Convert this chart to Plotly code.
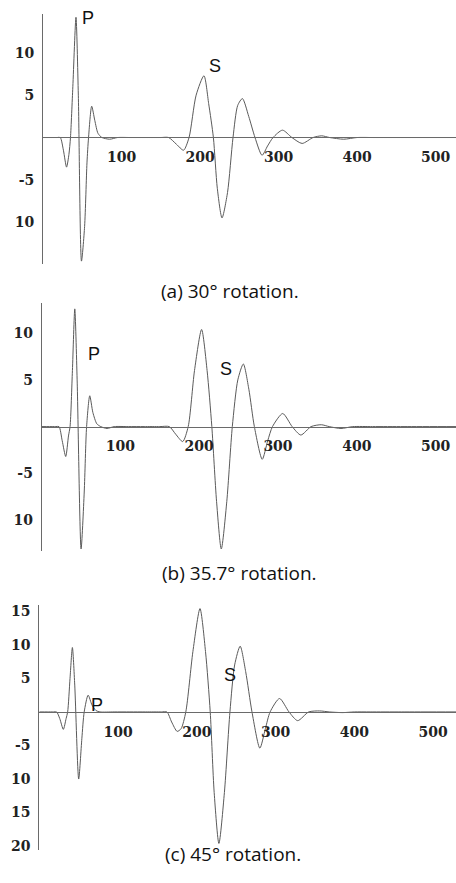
import plotly.graph_objects as go

# ---- data ----
a_x = [0, 10, 18, 22, 26, 30, 33, 35, 38, 42, 45, 49, 53, 56, 58, 62, 66, 70, 75, 85, 95, 110, 130, 150, 160, 170, 179, 186, 195, 205, 211, 217, 222, 228, 235, 242, 248, 254, 262, 270, 279, 286, 293, 305, 317, 330, 344, 355, 365, 383, 400, 420, 460, 526]
a_y = [0, 0, 0, 0, -1.5, -3.5, -2, 0, 6, 14.2, 5, -14.6, -10.5, -3, 0, 3.7, 2, 0.5, 0, -0.2, 0, 0, 0, 0, 0, -0.8, -1.5, 0, 5, 7.3, 4, 0, -6, -9.5, -6.5, 0, 3.8, 4.6, 2.5, 0, -2.1, -1, 0, 0.87, 0, -0.7, 0, 0.2, 0, -0.2, 0, 0, 0, 0]

b_x = [0, 10, 18, 22, 26, 30.5, 34, 36, 39, 42, 45, 50, 54, 57, 61, 65, 70, 75, 83, 92, 110, 130, 150, 162, 170, 179, 186, 194, 203, 210, 216, 222, 228, 235, 242, 249, 256, 263, 270, 280, 287, 293, 306, 318, 329, 342, 355, 365, 380, 395, 420, 460, 526]
b_y = [0, 0, 0, 0, -1.5, -3.2, -1, 0, 6, 12.6, 5, -13.1, -7, 0, 3.3, 1.5, 0.3, 0, -0.2, 0, 0, 0, 0, 0, -0.8, -1.6, 0, 6, 10.4, 6, 0, -8, -13.1, -8, 0, 5, 6.7, 4, 0, -3.5, -1.5, 0, 1.4, 0, -0.9, 0, 0.2, 0, -0.2, 0, 0, 0, 0]

c_x = [0, 10, 18, 22, 26, 30.5, 34, 36, 39, 42, 45, 50, 54, 57, 62, 67, 72, 77, 95, 115, 135, 155, 162, 168, 175, 180, 186, 195, 204, 211, 217, 222, 228, 235, 242, 248, 255, 262, 270, 280, 287, 293, 305, 317, 328, 342, 356, 368, 385, 400, 420, 460, 529]
c_y = [0, 0, 0, 0, -1, -2.6, -1, 0, 5, 9.6, 4, -10, -4, 0, 2.5, 1, 0.2, 0, 0, 0, 0, 0, 0, -1.5, -2.9, -2.5, 0, 9, 15.4, 9, 0, -12, -19.6, -12, 0, 7, 9.8, 6, 0, -5.4, -2.5, 0, 2.0, 0, -1.3, 0, 0.15, 0, -0.1, 0, 0, 0, 0]

x_ticks = [100, 200, 300, 400, 500]
a_yticks = [10, 5, -5, -10]
a_yticktext = ["10", "5", "-5", "10"]
b_yticks = [10, 5, -5, -10]
b_yticktext = ["10", "5", "-5", "10"]
c_yticks = [15, 10, 5, -5, -10, -15, -20]
c_yticktext = ["15", "10", "5", "-5", "10", "15", "20"]

captions = ["(a) 30° rotation.", "(b) 35.7° rotation.", "(c) 45° rotation."]

W, H = 456, 883
LINE = "#5a5a5a"
AX = "#6a6a6a"

panels = [
    dict(x=a_x, y=a_y, yt=a_yticks, ytt=a_yticktext, left=43, top=13, bottom=265, zero=137,
         yr=[-15, 14.6], xr=[0, 526], P=(57, 14.1), S=(219, 8.5), cap=(230, 277)),
    dict(x=b_x, y=b_y, yt=b_yticks, ytt=b_yticktext, left=41.7, top=304, bottom=553, zero=428,
         yr=[-13.3, 13.2], xr=[0, 526], P=(67, 7.8), S=(234, 6.2), cap=(239, 575)),
    dict(x=c_x, y=c_y, yt=c_yticks, ytt=c_yticktext, left=39.3, top=607, bottom=854, zero=715,
         yr=[-20.6, 16], xr=[0, 529], P=(73, 1.0), S=(242, 5.5), cap=(233, 873)),
]

fig = go.Figure()
layout = dict(width=W, height=H, margin=dict(l=0, r=0, t=0, b=0),
              paper_bgcolor="white", plot_bgcolor="white", showlegend=False)
annotations = []
tickfont = dict(family="DejaVu Serif", size=14, color="#222", weight="bold")

for i, p in enumerate(panels):
    n = "" if i == 0 else str(i + 1)
    fig.add_trace(go.Scatter(x=p["x"], y=p["y"], mode="lines",
                             line=dict(color=LINE, width=1, shape="spline", smoothing=0.7),
                             xaxis="x" + n, yaxis="y" + n, hoverinfo="skip"))
    ydom = [1 - p["bottom"] / H, 1 - p["top"] / H]
    zero_pos = 1 - p["zero"] / H
    layout["xaxis" + n] = dict(domain=[p["left"] / W, 1], range=p["xr"], anchor="free",
                               position=zero_pos, showline=True, linecolor=AX, linewidth=1,
                               showgrid=False, zeroline=False, tickvals=x_ticks,
                               ticks="", ticklabelstandoff=7, tickfont=tickfont, fixedrange=True)
    layout["yaxis" + n] = dict(domain=ydom, range=p["yr"], anchor="x" + n,
                               showline=True, linecolor=AX, linewidth=1, showgrid=False,
                               zeroline=False, tickvals=p["yt"], ticktext=p["ytt"],
                               ticks="", ticklabelstandoff=5, tickfont=tickfont, fixedrange=True)
    for lab in ("P", "S"):
        annotations.append(dict(x=p[lab][0], y=p[lab][1], xref="x" + n, yref="y" + n,
                                text=lab, showarrow=False,
                                font=dict(family="Liberation Sans", size=18, color="#111")))
    annotations.append(dict(x=p["cap"][0] / W, y=1 - p["cap"][1] / H, xref="paper", yref="paper",
                            text=captions[i], showarrow=False,
                            font=dict(family="Open Sans", size=19, color="#111")))

layout["annotations"] = annotations
fig.update_layout(**layout)
fig.write_html("out.html")
